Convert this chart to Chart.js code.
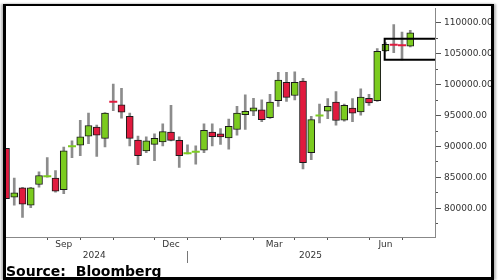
<!DOCTYPE html>
<html><head><meta charset="utf-8">
<script src="https://cdn.jsdelivr.net/npm/chart.js@4.4.1/dist/chart.umd.min.js"></script>
<style>
html,body{margin:0;padding:0;background:#fff;}
#wrap{position:relative;width:500px;height:280px;overflow:hidden;background:#fff;}
#c{position:absolute;left:0;top:0;}
#frame{position:absolute;left:3px;top:4px;width:491px;height:276px;box-sizing:border-box;border:3px solid #000;border-top-width:2px;pointer-events:none;box-shadow:-2px 0 2px #bbb,2px 0 2px #bbb;}
#src{position:absolute;left:6px;top:264px;font:bold 14px "DejaVu Sans";line-height:14px;color:#000;white-space:pre;}
</style></head>
<body>
<div id="wrap">
<canvas id="c" width="500" height="280"></canvas>
<div id="src">Source:  Bloomberg</div>
<div id="frame"></div>
</div>
<script>
// Weekly candles (index 0..49)
const opens  = [89700,81800,83300,80500,83850,85150,84900,83000,90000,90200,91650,93150,91300,97300,96750,94900,91050,89300,90350,90750,92350,91000,88850,89100,89400,92350,92050,91400,92750,95150,95700,95950,94650,97400,100400,98250,100600,89000,94950,95700,97200,94250,96200,95600,97800,97400,105450,106500,106500,106250];
const highs  = [89700,84900,83400,83400,85900,88200,86100,89900,90900,94250,95400,93450,95500,100100,99400,95400,91700,91550,92050,93650,96650,91550,90250,90100,93650,93650,92900,94450,96500,98350,97800,97550,98450,102000,102000,102100,101050,94900,96850,97750,98900,96850,97750,99350,98450,105850,106800,109750,108500,108800];
const lows   = [81550,80500,78500,80100,83400,85050,82600,82350,88200,88500,90450,88400,89950,95800,94600,90100,87050,89000,87700,90100,90900,86600,88800,87150,89000,90100,90350,89550,91850,92750,95000,94000,94550,96500,97300,97550,86350,87850,93800,94500,93450,94100,94000,95050,96650,97300,105400,105200,104000,106100];
const closes = [81550,82500,80650,83300,85300,85200,82750,89300,90050,91550,93400,91850,95400,97250,95550,91300,88500,90900,91300,92400,91000,88500,88900,89150,92600,91600,91550,93250,95400,95700,96250,94350,97200,100750,97950,100400,87400,94350,95000,96500,94200,96650,95400,98000,97050,105400,106550,106450,106400,108400];

// Axis / label data
const yTicks = [80000,85000,90000,95000,100000,105000,110000];
const yMinorTicks = [77500,80000,82500,85000,87500,90000,92500,95000,97500,100000,102500,105000,107500,110000];
const monthStarts = [5,9,13,18,22,26,30,35,39,44,48];
const monthLabelPos = [7,20,32.5,46];
const monthLabels = ['Sep','Dec','Mar','Jun'];
const yearLabelPos = [10.7,22,36.9];
const yearLabels = ['2024','','2025'];
const yearBreak = 22;

// Range box levels
const boxStart = 45.9;
const boxEnd = 52;
const boxUpper = 107450;
const boxLower = 104050;

const GREEN = '#7BCB1F', RED = '#E01A3E';
const idx = opens.map((_, i) => i);
const isDoji = i => Math.abs(closes[i] - opens[i]) <= 100;
const colorOf = i => closes[i] >= opens[i] ? GREEN : RED;

const wickData = idx.map(i => ({x: i, y: [lows[i], highs[i]]}));
const bodyData = idx.map(i => isDoji(i) ? {x: i, y: null} : {x: i, y: [opens[i], closes[i]]});
const dojiData = idx.filter(isDoji).map(i => ({x: i, y: closes[i]}));
const dojiColors = idx.filter(isDoji).map(colorOf);

const YMIN = 75350, YMAX = 112350, XMIN = 0, XMAX = 52;
const font9 = {family: 'DejaVu Sans', size: 9};

new Chart(document.getElementById('c'), {
  type: 'bar',
  data: {
    datasets: [
      {type: 'line', data: [{x: boxEnd, y: boxUpper}, {x: boxStart, y: boxUpper}, {x: boxStart, y: boxLower}, {x: boxEnd, y: boxLower}],
       borderColor: '#000', borderWidth: 2, pointRadius: 0, tension: 0, fill: false, order: 0},
      {type: 'scatter', data: dojiData, pointStyle: 'line', radius: 4, borderWidth: 2,
       borderColor: dojiColors, backgroundColor: dojiColors, order: 0},
      {data: bodyData, backgroundColor: idx.map(colorOf), borderColor: '#1a1a1a', borderWidth: 1,
       borderSkipped: false, barThickness: 7, grouped: false, order: 1},
      {data: wickData, backgroundColor: '#8c8c8c', borderWidth: 0, barThickness: 2, grouped: false, order: 3}
    ]
  },
  options: {
    responsive: false,
    animation: false,
    layout: {padding: {left: 6, top: 6, right: 0, bottom: 0}},
    plugins: {legend: {display: false}, tooltip: {enabled: false}},
    scales: {
      x: {type: 'linear', position: 'bottom', weight: 0, min: XMIN, max: XMAX, offset: false,
          afterBuildTicks: s => { s.ticks = monthStarts.map(v => ({value: v})); },
          ticks: {display: false},
          grid: {drawOnChartArea: false, drawTicks: true, tickLength: 3, tickColor: '#555', offset: false},
          border: {display: true, color: '#888', width: 1},
          afterFit: s => { s.height = 3; }},
      xm: {type: 'linear', position: 'bottom', weight: 1, min: XMIN, max: XMAX, offset: false,
          afterBuildTicks: s => { s.ticks = monthLabelPos.map(v => ({value: v})); },
          ticks: {autoSkip: false, maxRotation: 0, font: font9, color: '#333', padding: -1,
                  callback: (v, i) => monthLabels[i]},
          grid: {display: true, drawOnChartArea: false, drawTicks: false, offset: false},
          border: {display: false},
          afterFit: s => { s.height = 11; }},
      xy: {type: 'linear', position: 'bottom', weight: 2, min: XMIN, max: XMAX, offset: false,
          afterBuildTicks: s => { s.ticks = yearLabelPos.map(v => ({value: v})); },
          ticks: {autoSkip: false, maxRotation: 0, font: font9, color: '#333', padding: -13,
                  callback: (v, i) => yearLabels[i]},
          grid: {display: true, drawOnChartArea: false, drawTicks: true, tickLength: 12, offset: false,
                 tickColor: ctx => (ctx.tick && ctx.tick.value === yearBreak) ? '#777' : 'rgba(0,0,0,0)'},
          border: {display: false},
          afterFit: s => { s.height = 29; }},
      y: {type: 'linear', position: 'right', weight: 1, min: YMIN, max: YMAX,
          afterBuildTicks: s => { s.ticks = yTicks.map(v => ({value: v})); },
          ticks: {font: font9, color: '#333', padding: 3,
                  callback: v => Number(v).toFixed(2)},
          grid: {drawOnChartArea: false, drawTicks: true, tickLength: 6, tickColor: '#555'},
          border: {display: true, color: '#888', width: 1},
          afterFit: s => { s.width = 65; }},
      y2: {type: 'linear', position: 'right', weight: 0, min: YMIN, max: YMAX,
          afterBuildTicks: s => { s.ticks = yMinorTicks.map(v => ({value: v})); },
          ticks: {display: false},
          grid: {drawOnChartArea: false, drawTicks: true, tickLength: 3, tickColor: '#555'},
          border: {display: false},
          afterFit: s => { s.width = 0; }}
    }
  }
});
</script>
</body></html>
